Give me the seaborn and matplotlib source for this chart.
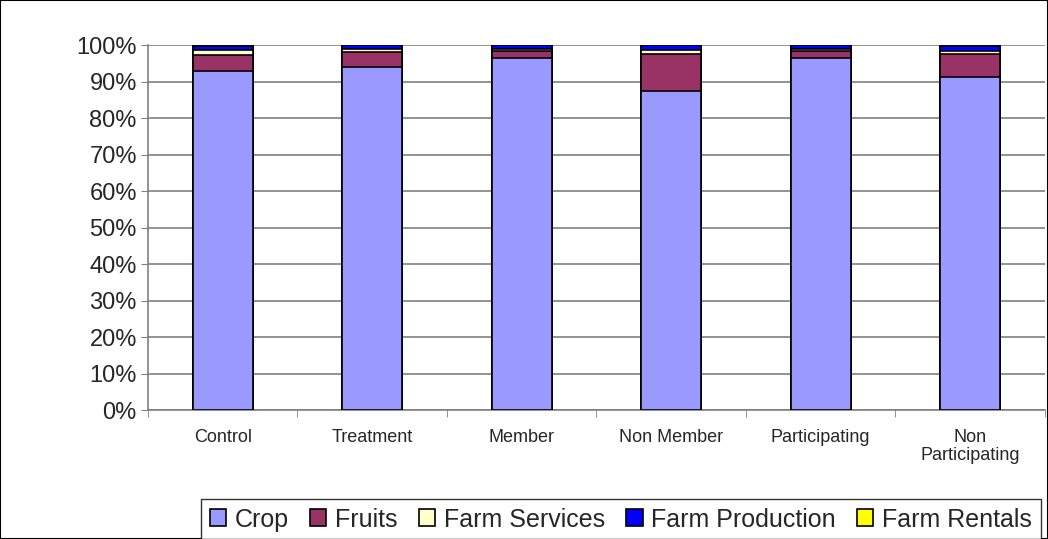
import numpy as np
import pandas as pd
import seaborn as sns
import matplotlib
matplotlib.use("Agg")
import matplotlib.pyplot as plt
from matplotlib.patches import Patch, Rectangle

categories = ["Control", "Treatment", "Member", "Non Member", "Participating", "Non\nParticipating"]
crop = [92.8, 94.0, 96.4, 87.5, 96.4, 91.3]
fruits = [4.4, 4.0, 1.9, 10.1, 1.9, 6.2]
farm_services = [1.5, 1.0, 0.6, 0.9, 0.6, 0.9]
farm_production = [1.0, 1.0, 1.1, 1.5, 1.1, 1.3]
farm_rentals = [0.3, 0.0, 0.0, 0.0, 0.0, 0.3]

series_names = ["Crop", "Fruits", "Farm Services", "Farm Production", "Farm Rentals"]
series_vals = [crop, fruits, farm_services, farm_production, farm_rentals]
colors = ["#9999FF", "#993366", "#FFFFCC", "#0000FF", "#FFFF00"]

sns.set_style("white")
plt.rcParams["font.family"] = ["Liberation Sans", "DejaVu Sans"]

fig = plt.figure(figsize=(10.48, 5.39), dpi=100)
ax = fig.add_axes([0.1412, 0.2393, 0.8558, 0.6772])

cum = np.cumsum(np.array(series_vals), axis=0)
# draw from top segment down so lower segments overlay
for i in range(len(series_names) - 1, -1, -1):
    df = pd.DataFrame({"cat": categories, "val": cum[i]})
    sns.barplot(data=df, x="cat", y="val", color=colors[i], width=0.4,
                edgecolor="black", linewidth=1.2, saturation=1, ax=ax, zorder=3)

ax.set_ylim(0, 100)
ax.set_xlim(-0.5, 5.5)
ax.set_yticks(np.arange(0, 101, 10))
ax.set_yticklabels([f"{v}%" for v in range(0, 101, 10)], fontsize=17)
ax.yaxis.grid(True, color="#808080", linewidth=1.2, zorder=0)
ax.set_axisbelow(True)
ax.set_xlabel("")
ax.set_ylabel("")

ax.set_xticks(np.arange(6))
ax.set_xticklabels(categories, fontsize=13, va="top", linespacing=1.05)
ax.tick_params(axis="x", length=0, pad=14)
ax.set_xticks(np.arange(-0.5, 6, 1), minor=True)
ax.tick_params(axis="x", which="minor", length=5, color="#808080", direction="out", bottom=True)
ax.tick_params(axis="y", length=5, color="#808080", direction="out", left=True, pad=3)

for s in ["top", "right"]:
    ax.spines[s].set_visible(False)
for s in ["left", "bottom"]:
    ax.spines[s].set_color("#808080")
    ax.spines[s].set_linewidth(1.2)

handles = [Patch(facecolor=c, edgecolor="black", linewidth=1.2, label=n) for n, c in zip(series_names, colors)]
leg = fig.legend(handles=handles, loc="center", bbox_to_anchor=(0.5925, 0.036), ncol=5,
                 fontsize=18, frameon=True, fancybox=False, edgecolor="black",
                 handlelength=0.65, handleheight=0.65, handletextpad=0.35, columnspacing=0.85,
                 borderpad=0.35)
leg.get_frame().set_linewidth(1.0)

fig.patches.append(Rectangle((0, 0), 1, 1, transform=fig.transFigure, fill=False,
                             edgecolor="black", linewidth=1.5))

fig.savefig("out.png", dpi=100)
